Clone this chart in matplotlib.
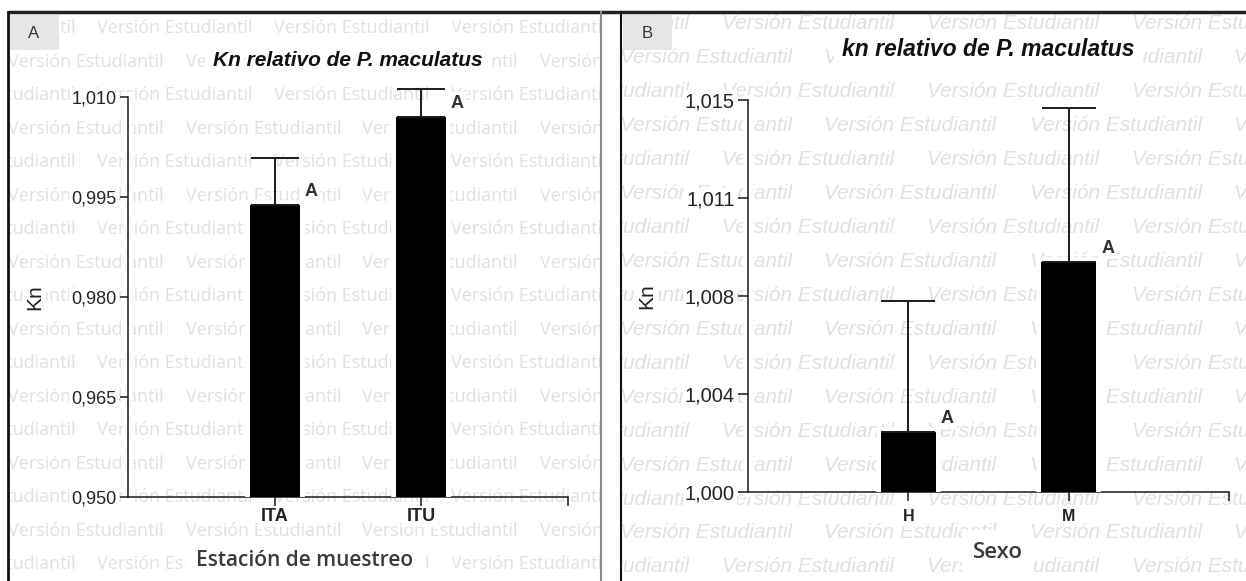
import matplotlib
matplotlib.use("Agg")
import matplotlib.pyplot as plt
from matplotlib import patheffects as pe
from matplotlib.patches import Rectangle

W, H = 1246, 581

# Panel A: relative Kn per sampling station
stations = ["ITA", "ITU"]
kn_station = [0.9938, 1.0070]
sd_station = [0.0071, 0.0042]
letters_station = ["A", "A"]
yticks_station = [0.950, 0.965, 0.980, 0.995, 1.010]
ylabels_station = ["0,950", "0,965", "0,980", "0,995", "1,010"]

# Panel B: relative Kn per sex
sexes = ["H", "M"]
kn_sex = [1.0023, 1.0088]
sd_sex = [0.0050, 0.0059]
letters_sex = ["A", "A"]
yticks_sex = [1.000, 1.00375, 1.0075, 1.01125, 1.015]
ylabels_sex = ["1,000", "1,004", "1,008", "1,011", "1,015"]

WATERMARK = "Versión Estudiantil"
INK = "#1a1a1a"
WHITE_BOX = dict(facecolor="white", edgecolor="none", pad=1.5)

plt.rcParams["font.family"] = ["Liberation Sans", "DejaVu Sans"]


def px_rect(x0, y0, x1, y1):
    # pixel box (origin top-left) -> figure fraction [left, bottom, w, h]
    return [x0 / W, 1 - y1 / H, (x1 - x0) / W, (y1 - y0) / H]


def watermark(fig, box, first_x, period, row0, row_step, **font):
    x0, y0, x1, y1 = box
    bg = fig.add_axes(px_rect(*box), zorder=0)
    bg.set_xlim(x0, x1)
    bg.set_ylim(y1, y0)
    bg.axis("off")
    i, y = -1, row0 - row_step
    while y < y1 + row_step:
        x = first_x - (period / 2 if i % 2 else 0) - 2 * period
        while x < x1:
            bg.text(x, y, WATERMARK, ha="left", va="center", color="#e0e0e0",
                    clip_on=True, **font)
            x += period
        i += 1
        y += row_step


def bar_panel(fig, rect, cats, vals, errs, letters, yticks, ylabels, ylim,
              cap, ysize, xsize, tick_len, xpad, letter_dx, ylabel_x):
    ax = fig.add_axes(rect, zorder=1)
    ax.patch.set_visible(False)
    x = list(range(len(cats)))

    bars = ax.bar(x, vals, width=0.34, color="black", zorder=3)
    for b in bars:
        b.set_path_effects([pe.withStroke(linewidth=7, foreground="white")])

    eb = ax.errorbar(x, vals, yerr=[[0] * len(vals), errs], fmt="none",
                     ecolor=INK, elinewidth=1.4, capsize=cap, capthick=1.4,
                     zorder=4)
    for art in list(eb.lines[1]) + list(eb.lines[2]):
        art.set_clip_on(False)

    for xi, v, lab in zip(x, vals, letters):
        ax.annotate(lab, (xi, v), xytext=(letter_dx, 10),
                    textcoords="offset points", ha="center", va="center",
                    fontsize=13, fontweight="bold", color="#333333",
                    bbox=WHITE_BOX, annotation_clip=False)

    ax.set_xlim(-1, 2)
    ax.set_ylim(*ylim)
    ax.set_yticks(yticks, ylabels)
    ax.set_xticks(x, cats)
    ax.set_xticks([2], minor=True)

    for side in ("top", "right"):
        ax.spines[side].set_visible(False)
    for side in ("left", "bottom"):
        sp = ax.spines[side]
        sp.set_linewidth(1.1)
        sp.set_color(INK)
        sp.set_zorder(2)
    ax.spines["left"].set_path_effects(
        [pe.withStroke(linewidth=7, foreground="white")])
    ax.xaxis.set_zorder(2.6)
    ax.yaxis.set_zorder(2.6)

    ax.tick_params(axis="y", length=tick_len, width=1.1, color=INK,
                   labelsize=ysize, labelcolor="#222222", pad=2)
    ax.tick_params(axis="x", which="both", length=6.5, width=1.1, color=INK,
                   labelsize=xsize, labelcolor="#222222", pad=xpad)
    for t in ax.get_xticklabels():
        t.set_fontweight("bold")
        t.set_bbox(WHITE_BOX)
    for t in ax.get_yticklabels():
        t.set_bbox(WHITE_BOX)

    ax.set_ylabel("Kn", fontsize=15, color="#222222")
    ax.yaxis.set_label_coords(ylabel_x, 0.5)
    ax.yaxis.label.set_bbox(WHITE_BOX)
    return ax


fig = plt.figure(figsize=(W / 100, H / 100), dpi=100)

watermark(fig, (8, 12, 601, H), first_x=97, period=177, row0=28,
          row_step=33.5, family="Open Sans", fontsize=13)
watermark(fig, (621, 12, W, H), first_x=722, period=205, row0=23,
          row_step=34, family="Liberation Sans", style="italic", fontsize=15)

bar_panel(fig, px_rect(128, 97, 568, 497), stations, kn_station, sd_station,
          letters_station, yticks_station, ylabels_station, (0.950, 1.010),
          cap=17.5, ysize=13, xsize=13, tick_len=6, xpad=1.5,
          letter_dx=26, ylabel_x=-0.19)
bar_panel(fig, px_rect(748, 100, 1229, 492), sexes, kn_sex, sd_sex,
          letters_sex, yticks_sex, ylabels_sex, (1.000, 1.015),
          cap=19.5, ysize=14.5, xsize=11.5, tick_len=7.5, xpad=6,
          letter_dx=28, ylabel_x=-0.19)

title_box = dict(facecolor="white", edgecolor="none", pad=6)
fig.text(348 / W, 1 - 61 / H, "Kn relativo de P. maculatus", ha="center",
         va="center", fontsize=15, fontweight="bold", style="italic",
         color="#111111", bbox=title_box)
fig.text(988 / W, 1 - 50 / H, "kn relativo de P. maculatus", ha="center",
         va="center", fontsize=16.5, fontweight="bold", style="italic",
         color="#111111", bbox=title_box)

xlab_box = dict(facecolor="white", edgecolor="none", pad=8)
fig.text(305 / W, 1 - 561 / H, "Estación de muestreo", ha="center",
         va="center", family="Open Sans", fontweight="semibold", fontsize=15,
         color="#3a3a3a", bbox=xlab_box)
fig.text(998 / W, 1 - 552 / H, "Sexo", ha="center", va="center",
         family="Open Sans", fontweight="semibold", fontsize=16,
         color="#3a3a3a", bbox=xlab_box)

# panel frames and corner tags
fr = fig.add_axes([0, 0, 1, 1], zorder=5)
fr.patch.set_visible(False)
fr.set_xlim(0, W)
fr.set_ylim(H, 0)
fr.axis("off")
fr.plot([8, W], [12, 12], color="#222222", lw=2.5, solid_capstyle="butt")
fr.plot([8, 8], [12, H + 5], color="#111111", lw=2)
fr.plot([601, 601], [12, H + 5], color="#8a8a8a", lw=1.5)
fr.plot([621, 621], [12, H + 5], color="#111111", lw=1.5)
for x0, tag in ((10, "A"), (623, "B")):
    fr.add_patch(Rectangle((x0, 15), 49, 35, facecolor="#e6e6e6",
                           edgecolor="none"))
    fr.text(x0 + 24, 33, tag, ha="center", va="center", fontsize=12,
            color="#333333")

fig.savefig("out.png", dpi=100, facecolor="white")
